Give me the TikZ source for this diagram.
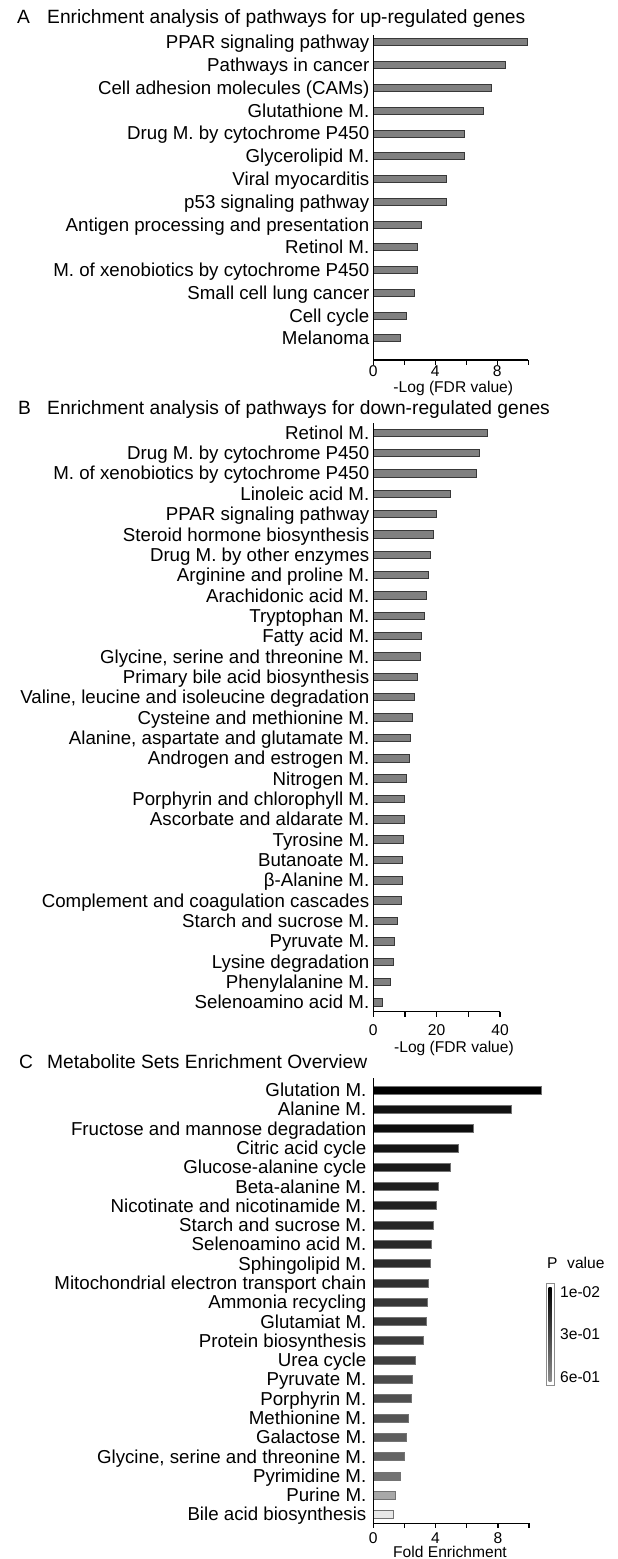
\documentclass[tikz,border=0pt]{standalone}
\usepackage{fontspec}
\setmainfont{Liberation Sans}
\begin{document}
\begin{tikzpicture}[x=1pt,y=-1pt,
  lab/.style={anchor=base east, inner sep=0pt, font=\fontsize{18.7}{20}\selectfont},
  ttl/.style={anchor=base west, inner sep=0pt, font=\fontsize{19.2}{21}\selectfont},
  ticklab/.style={anchor=base, inner sep=0pt, font=\fontsize{15.6}{17}\selectfont},
  leglab/.style={anchor=base west, inner sep=0pt, font=\fontsize{15.6}{17}\selectfont},
  axl/.style={line width=1.5pt},
  barAB/.style={fill=black!50, draw=black!78, line width=0.7pt},
  barC/.style={draw=black!55, line width=0.6pt},
]
\path[use as bounding box] (0,0) rectangle (618,1559);
\fill[white] (0,0) rectangle (618,1559);

% ---------------- Panel A ----------------
\node[ttl] (A-tag) at (17,23.3) {A};
\node[ttl] (A-title) at (47,23.3) {Enrichment analysis of pathways for up-regulated genes};
\foreach \lab/\val [count=\i from 0] in {
  PPAR signaling pathway/9.96,
  Pathways in cancer/8.5,
  Cell adhesion molecules (CAMs)/7.6,
  Glutathione M./7.08,
  Drug M. by cytochrome P450/5.85,
  Glycerolipid M./5.85,
  Viral myocarditis/4.7,
  p53 signaling pathway/4.7,
  Antigen processing and presentation/3.13,
  Retinol M./2.82,
  M. of xenobiotics by cytochrome P450/2.82,
  Small cell lung cancer/2.62,
  Cell cycle/2.16,
  Melanoma/1.73}{
  \pgfmathsetmacro{\yy}{42.3+\i*22.77}
  \node[lab] (A-lab-\i) at (369.5,\yy+6.6) {\lab};
  \draw[barAB] (373.3,\yy-3.5) rectangle ({373.3+\val*15.5},\yy+3.5);
}
\coordinate (A-top) at (373.3,35);
\coordinate (A-o) at (373.3,360);
\coordinate (A-end) at (528.3,360);
\draw[axl] (A-top) -- (A-o) -- (A-end);
\foreach \t in {0,2,...,10} \draw[axl] ({373.3+\t*15.5},360) -- ++(0,5);
\foreach \t in {0,4,8} \node[ticklab] (A-tick-\t) at ({373.3+\t*15.5},376.6) {\t};
\node[ticklab] (A-xlab) at (453.3,392.6) {-Log (FDR value)};

% ---------------- Panel B ----------------
\node[ttl] (B-tag) at (18,414.5) {B};
\node[ttl] (B-title) at (47,414.5) {Enrichment analysis of pathways for down-regulated genes};
\foreach \lab/\val [count=\i from 0] in {
  Retinol M./36.0,
  Drug M. by cytochrome P450/33.4,
  M. of xenobiotics by cytochrome P450/32.4,
  Linoleic acid M./24.4,
  PPAR signaling pathway/20.0,
  Steroid hormone biosynthesis/18.9,
  Drug M. by other enzymes/18.1,
  Arginine and proline M./17.4,
  Arachidonic acid M./16.6,
  Tryptophan M./16.0,
  Fatty acid M./15.3,
  {Glycine, serine and threonine M.}/14.7,
  Primary bile acid biosynthesis/13.8,
  {Valine, leucine and isoleucine degradation}/12.9,
  Cysteine and methionine M./12.4,
  {Alanine, aspartate and glutamate M.}/11.8,
  Androgen and estrogen M./11.4,
  Nitrogen M./10.3,
  Porphyrin and chlorophyll M./9.9,
  Ascorbate and aldarate M./9.8,
  Tyrosine M./9.6,
  Butanoate M./9.3,
  β-Alanine M./9.1,
  Complement and coagulation cascades/8.9,
  Starch and sucrose M./7.7,
  Pyruvate M./6.5,
  Lysine degradation/6.3,
  Phenylalanine M./5.3,
  Selenoamino acid M./2.7}{
  \pgfmathsetmacro{\yy}{432.7+\i*20.34}
  \node[lab] (B-lab-\i) at (369.5,\yy+6.6) {\lab};
  \draw[barAB] (373.3,\yy-3.7) rectangle ({373.3+\val*3.1675},\yy+3.7);
}
\coordinate (B-top) at (373.3,423);
\coordinate (B-o) at (373.3,1011.7);
\coordinate (B-end) at (500,1011.7);
\draw[axl] (B-top) -- (B-o) -- (B-end);
\foreach \t in {0,10,...,40} \draw[axl] ({373.3+\t*3.1675},1011.7) -- ++(0,5);
\foreach \t in {0,20,40} \node[ticklab] (B-tick-\t) at ({373.3+\t*3.1675},1035.6) {\t};
\node[ticklab] (B-xlab) at (454,1052.6) {-Log (FDR value)};

% ---------------- Panel C ----------------
\node[ttl] (C-tag) at (19,1068.5) {C};
\node[ttl] (C-title) at (47,1068.5) {Metabolite Sets Enrichment Overview};
\foreach \lab/\val/\g [count=\i from 0] in {
  Glutation M./10.8/100,
  Alanine M.\ /8.85/93,
  Fructose and mannose degradation/6.42/95,
  Citric acid cycle/5.44/92,
  Glucose-alanine cycle/4.93/90,
  Beta-alanine M./4.17/88,
  Nicotinate and nicotinamide M./4.07/87,
  Starch and sucrose M./3.86/85,
  Selenoamino acid M./3.74/84,
  Sphingolipid M./3.64/83,
  Mitochondrial electron transport chain/3.56/81,
  Ammonia recycling/3.48/79,
  Glutamiat M./3.41/78,
  Protein biosynthesis\ /3.23/77,
  Urea cycle/2.70/75,
  Pyruvate M./2.50/70,
  Porphyrin M./2.42/69,
  Methionine M./2.22/67,
  Galactose M./2.12/63,
  {Glycine, serine and threonine M.}/2.02/61,
  Pyrimidine M./1.72/55,
  Purine M./1.44/34,
  Bile acid biosynthesis\ /1.29/9}{
  \pgfmathsetmacro{\yy}{1090+\i*19.29}
  \node[lab] (C-lab-\i) at (366.5,\yy+6.6) {\lab};
  \draw[barC, fill=black!\g] (373.3,\yy-4) rectangle ({373.3+\val*15.57},\yy+4);
}
\coordinate (C-top) at (373.3,1078);
\coordinate (C-o) at (373.3,1523.3);
\coordinate (C-end) at (529,1523.3);
\draw[axl] (C-top) -- (C-o) -- (C-end);
\foreach \t in {0,2,...,10} \draw[axl] ({373.3+\t*15.57},1523.3) -- ++(0,5);
\foreach \t in {0,4,8} \node[ticklab] (C-tick-\t) at ({373.3+\t*15.57},1543.6) {\t};
\node[ticklab] (C-xlab) at (450,1557.5) {Fold Enrichment};

% legend
\node[leglab] (L-P) at (547,1268.3) {P};
\node[leglab] (L-value) at (567,1268.3) {value};
\draw[draw=black!45, line width=0.7pt] (546,1283.3) rectangle (554.3,1385);
\shade[top color=black, bottom color=black!45] (548.6,1287) rectangle (551.6,1381);
\node[leglab] (L-1) at (560,1297.3) {1e-02};
\node[leglab] (L-2) at (560,1339) {3e-01};
\node[leglab] (L-3) at (560,1382.3) {6e-01};
\end{tikzpicture}
\end{document}
